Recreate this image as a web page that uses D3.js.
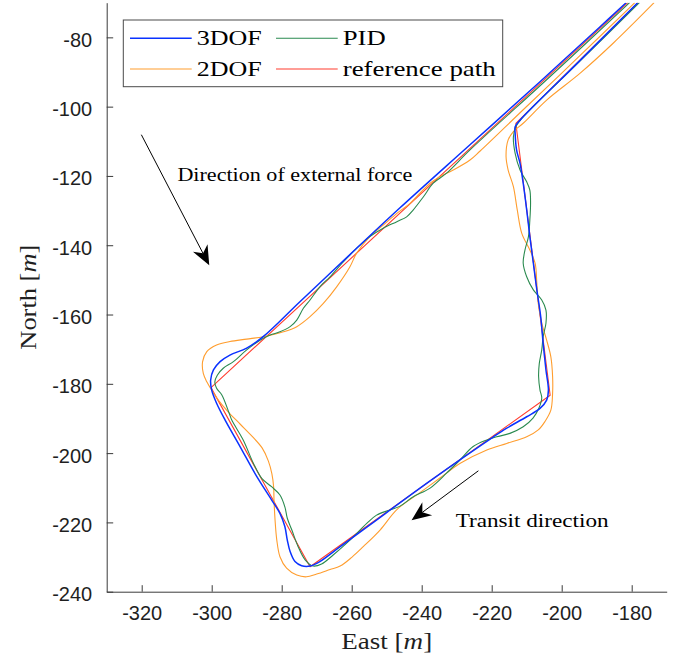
<!DOCTYPE html>
<html>
<head>
<meta charset="utf-8">
<script src="https://cdn.jsdelivr.net/npm/d3@7"></script>
<style>
  body { margin: 0; background: #fff; }
  svg { display: block; }
</style>
</head>
<body>
<svg id="chart" width="675" height="659"></svg>
<script>
// ---- data: vessel tracks in East / North metres ----
const xTicks = [-320, -300, -280, -260, -240, -220, -200, -180];
const yTicks = [-240, -220, -200, -180, -160, -140, -120, -100, -80];

const seriesNames = ["3DOF", "2DOF", "PID", "reference path"];

const refEast  = [-178.2, -213.1, -203.3, -271.9, -300.2, -181.1];
const refNorth = [-70.0, -104.8, -183.3, -232.8, -181.1, -70.0];

const dof3East = [-178.3, -195.1, -211.9, -213.3, -213.3, -212.9, -211.9, -211.0, -210.0, -209.1, -208.1,
  -207.1, -206.0, -205.3, -204.5, -203.8, -204.3, -206.2, -210.0, -215.7, -219.5, -237.6, -254.8,
  -263.3, -269.1, -271.9, -274.3, -276.2, -277.6, -278.4, -279.1, -280.5, -282.9, -287.1, -291.9,
  -296.2, -298.6, -300.0, -300.3, -299.5, -297.6, -294.8, -290.0, -285.3, -274.8, -260.5, -246.2,
  -226.2, -206.2, -189.1, -181.6];
const dof3North = [-70.0, -87.0, -103.9, -105.8, -107.7, -112.5, -116.4, -122.1, -129.8, -137.5, -145.2,
  -152.9, -160.6, -168.3, -176.0, -181.8, -184.7, -187.1, -189.5, -192.8, -195.3, -208.0, -220.7,
  -227.0, -231.3, -232.6, -232.5, -231.3, -228.4, -225.1, -221.2, -217.4, -213.5, -206.8, -198.1,
  -190.4, -185.6, -181.8, -178.9, -176.0, -173.6, -171.7, -169.7, -166.4, -156.3, -142.7, -129.2,
  -111.0, -92.8, -77.0, -70.0];

const dof2East = [-173.6, -185.3, -194.8, -204.3, -211.0, -213.8, -215.3, -215.9, -215.3, -213.8, -212.7,
  -211.4, -209.1, -207.6, -207.1, -206.7, -205.7, -204.3, -203.1, -202.6, -202.6, -203.1, -204.8,
  -206.7, -210.0, -215.7, -221.4, -229.1, -234.8, -240.5, -247.1, -251.9, -256.7, -259.9, -263.3,
  -266.2, -270.0, -272.9, -275.7, -278.6, -280.5, -281.4, -281.9, -282.2, -282.3, -282.8, -283.8,
  -285.6, -288.5, -291.9, -295.3, -298.1, -300.0, -301.4, -302.4, -302.6, -301.4, -298.6, -294.8,
  -290.0, -285.3, -279.5, -275.7, -271.9, -268.1, -264.3, -260.5, -258.6, -254.8, -251.0, -247.1,
  -243.3, -240.5, -237.6, -234.8, -231.0, -226.2, -223.3, -211.0, -194.8, -179.1];
const dof2North = [-70.0, -81.7, -90.4, -98.1, -104.8, -107.2, -109.6, -114.4, -118.3, -123.1, -129.8,
  -136.6, -141.4, -145.2, -151.0, -156.8, -162.5, -167.4, -172.2, -177.9, -182.7, -187.6, -190.9,
  -193.3, -195.3, -197.2, -199.1, -203.0, -207.2, -211.4, -216.3, -222.2, -227.0, -230.0, -232.6,
  -233.6, -234.9, -235.7, -235.2, -233.2, -229.9, -225.1, -219.3, -213.5, -209.8, -206.0, -202.3,
  -198.5, -195.1, -191.6, -188.1, -184.7, -181.8, -179.4, -177.0, -173.6, -170.7, -168.8, -167.8,
  -167.1, -166.4, -165.0, -163.5, -160.6, -156.8, -152.0, -146.2, -142.3, -137.5, -134.2, -130.8,
  -127.9, -125.0, -122.1, -120.2, -118.3, -115.4, -112.8, -100.9, -85.3, -70.0];

const pidEast = [-177.8, -194.5, -211.3, -213.1, -213.8, -213.3, -211.9, -210.0, -209.1, -208.9, -209.1,
  -209.5, -210.5, -211.0, -210.0, -208.1, -205.7, -204.5, -204.5, -205.3, -205.7, -206.4, -206.6,
  -206.2, -205.7, -206.5, -208.2, -211.0, -214.8, -218.6, -221.4, -225.3, -229.1, -232.9, -237.6,
  -242.4, -246.2, -249.1, -252.9, -255.7, -260.5, -265.3, -268.6, -271.0, -273.3, -275.3, -277.1,
  -278.4, -279.1, -280.5, -282.9, -285.7, -288.1, -291.0, -294.3, -295.0, -297.1, -298.6, -299.1,
  -298.4, -296.7, -293.8, -290.0, -286.2, -283.3, -280.5, -277.6, -275.7, -273.8, -271.9, -269.1,
  -266.2, -262.4, -258.6, -254.8, -251.0, -247.1, -244.3, -242.4, -239.5, -236.7, -232.9, -226.2,
  -203.3, -180.6];
const pidNorth = [-70.0, -86.6, -103.3, -105.8, -108.7, -113.5, -118.3, -121.7, -124.1, -127.9, -132.7,
  -137.5, -141.4, -145.2, -149.1, -152.9, -155.8, -158.7, -162.5, -166.4, -170.2, -174.1, -177.9,
  -181.8, -184.1, -187.0, -189.9, -192.4, -194.3, -195.3, -196.2, -198.1, -202.0, -205.8, -210.1,
  -212.6, -215.3, -216.4, -217.9, -220.3, -225.1, -229.4, -232.0, -232.6, -230.8, -227.0, -222.2,
  -218.8, -215.5, -212.1, -209.7, -207.3, -202.9, -196.2, -190.4, -188.5, -183.2, -181.3, -179.4,
  -177.5, -175.5, -173.6, -170.2, -167.4, -165.9, -165.0, -163.5, -161.6, -158.2, -155.8, -152.0,
  -149.1, -144.8, -140.9, -137.5, -135.1, -133.2, -131.8, -129.8, -126.0, -122.1, -119.2, -112.5,
  -91.3, -70.0];

// annotation arrows: [startEast, startNorth, tipEast, tipNorth]
const forceArrow   = [-320.1, -108.1, -300.7, -145.8];
const transitArrow = [-223.8, -205.1, -242.9, -219.4];
const forceLabel   = { text: "Direction of external force", east: -309.8, north: -121.4 };
const transitLabel = { text: "Transit direction", east: -230.3, north: -221.2 };

// ---- layout ----
const svg = d3.select("#chart");
const x = d3.scaleLinear().domain([-330, -170]).range([106.7, 666.7]);
const y = d3.scaleLinear().domain([-240, -70]).range([591.7, 2.7]);

const axisColor = "#3a3a3a";
const labelColor = "#1f1f1f";
const serif = "'Liberation Serif', 'Times New Roman', serif";
const sans = "'Liberation Sans', Arial, Helvetica, sans-serif";

svg.append("defs").append("clipPath").attr("id", "plotClip")
  .append("rect")
  .attr("x", x.range()[0]).attr("y", y.range()[1])
  .attr("width", x.range()[1] - x.range()[0])
  .attr("height", y.range()[0] - y.range()[1]);

// ---- tracks ----
const line = d3.line()
  .x(d => x(d[0])).y(d => y(d[1]))
  .curve(d3.curveCatmullRom.alpha(0.5));
const straight = d3.line().x(d => x(d[0])).y(d => y(d[1]));

const zip = (a, b) => a.map((v, i) => [v, b[i]]);

const tracks = [
  { name: seriesNames[3], pts: zip(refEast, refNorth), color: "#ff3d2e", width: 1.1, gen: straight },
  { name: seriesNames[1], pts: zip(dof2East, dof2North), color: "#ff9d2e", width: 1.1, gen: line },
  { name: seriesNames[2], pts: zip(pidEast, pidNorth), color: "#2a8a4f", width: 1.1, gen: line },
  { name: seriesNames[0], pts: zip(dof3East, dof3North), color: "#0a32ff", width: 1.5, gen: line }
];

const plot = svg.append("g").attr("clip-path", "url(#plotClip)");
plot.selectAll("path.track")
  .data(tracks)
  .join("path")
  .attr("class", "track")
  .attr("d", d => d.gen(d.pts))
  .attr("fill", "none")
  .attr("stroke", d => d.color)
  .attr("stroke-width", d => d.width)
  .attr("stroke-linejoin", "round");

// ---- axes ----
const xAxis = d3.axisBottom(x).tickValues(xTicks).tickFormat(d => String(d))
  .tickSizeInner(-6.5).tickSizeOuter(0).tickPadding(14.5);
const yAxis = d3.axisLeft(y).tickValues(yTicks).tickFormat(d => String(d))
  .tickSizeInner(-6.5).tickSizeOuter(0).tickPadding(14.5);

const gx = svg.append("g").attr("transform", `translate(0,${y.range()[0]})`).call(xAxis);
const gy = svg.append("g").attr("transform", `translate(${x.range()[0]},0)`).call(yAxis);
[gx, gy].forEach(g => {
  g.select(".domain").attr("stroke", axisColor).attr("stroke-width", 1);
  g.selectAll(".tick line").attr("stroke", axisColor).attr("stroke-width", 1);
  g.selectAll(".tick text").attr("fill", labelColor)
    .style("font-family", sans).style("font-size", "20px");
});
gy.selectAll(".tick text").attr("dy", "0.45em");

// axis titles
const xTitle = svg.append("text")
  .attr("x", (x.range()[0] + x.range()[1]) / 2).attr("y", 649)
  .attr("text-anchor", "middle")
  .attr("textLength", 91).attr("lengthAdjust", "spacingAndGlyphs")
  .style("font-family", serif).style("font-size", "23px").attr("fill", labelColor);
xTitle.append("tspan").text("East [");
xTitle.append("tspan").style("font-style", "italic").text("m");
xTitle.append("tspan").text("]");

const yTitle = svg.append("text")
  .attr("transform", `translate(36,${(y.range()[0] + y.range()[1]) / 2}) rotate(-90)`)
  .attr("text-anchor", "middle")
  .attr("textLength", 105).attr("lengthAdjust", "spacingAndGlyphs")
  .style("font-family", serif).style("font-size", "23px").attr("fill", labelColor);
yTitle.append("tspan").text("North [");
yTitle.append("tspan").style("font-style", "italic").text("m");
yTitle.append("tspan").text("]");

// ---- annotations ----
function drawArrow(a) {
  const x0 = x(a[0]), y0 = y(a[1]), x1 = x(a[2]), y1 = y(a[3]);
  const dx = x1 - x0, dy = y1 - y0, L = Math.hypot(dx, dy);
  const ux = dx / L, uy = dy / L, px = -uy, py = ux;
  const len = 19.5, hw = 8.2, notch = 13.5;
  svg.append("line")
    .attr("x1", x0).attr("y1", y0)
    .attr("x2", x1 - ux * notch).attr("y2", y1 - uy * notch)
    .attr("stroke", "#000").attr("stroke-width", 1);
  const head = [
    [x1, y1],
    [x1 - ux * len + px * hw, y1 - uy * len + py * hw],
    [x1 - ux * notch, y1 - uy * notch],
    [x1 - ux * len - px * hw, y1 - uy * len - py * hw]
  ];
  svg.append("path").attr("d", "M" + head.map(p => p.join(",")).join("L") + "Z")
    .attr("fill", "#000");
}
drawArrow(forceArrow);
drawArrow(transitArrow);

svg.append("text")
  .attr("x", x(forceLabel.east)).attr("y", y(forceLabel.north))
  .attr("textLength", 235).attr("lengthAdjust", "spacingAndGlyphs")
  .style("font-family", serif).style("font-size", "18px").attr("fill", "#000")
  .text(forceLabel.text);
svg.append("text")
  .attr("x", x(transitLabel.east)).attr("y", y(transitLabel.north))
  .attr("textLength", 153).attr("lengthAdjust", "spacingAndGlyphs")
  .style("font-family", serif).style("font-size", "18px").attr("fill", "#000")
  .text(transitLabel.text);

// ---- legend (two columns, column-major order) ----
const legend = svg.append("g");
legend.append("rect")
  .attr("x", 123.3).attr("y", 20).attr("width", 379.4).attr("height", 66.7)
  .attr("fill", "#fff").attr("stroke", "#4a4a4a").attr("stroke-width", 1);

const legendOrder = [tracks[3], tracks[1], tracks[2], tracks[0]];
const colX = [130, 276];
const rowY = [38.3, 69];
const textWidths = { "3DOF": 65, "2DOF": 65, "PID": 43, "reference path": 153 };
legendOrder.forEach((t, i) => {
  const cx = colX[Math.floor(i / 2)], cy = rowY[i % 2];
  legend.append("line")
    .attr("x1", cx).attr("x2", cx + 61.7).attr("y1", cy).attr("y2", cy)
    .attr("stroke", t.color).attr("stroke-width", t.width);
  legend.append("text")
    .attr("x", cx + 66.7).attr("y", cy + 6.8)
    .attr("textLength", textWidths[t.name]).attr("lengthAdjust", "spacingAndGlyphs")
    .style("font-family", serif).style("font-size", "22px").attr("fill", "#000")
    .text(t.name);
});
</script>
</body>
</html>
